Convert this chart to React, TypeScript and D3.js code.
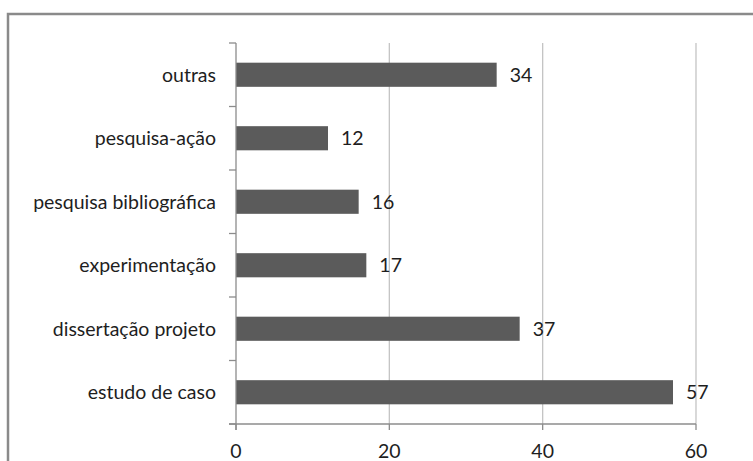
import React, { useEffect, useRef } from 'react';
import * as d3 from 'd3';

const categories = [
  'outras',
  'pesquisa-ação',
  'pesquisa bibliográfica',
  'experimentação',
  'dissertação projeto',
  'estudo de caso',
];
const values = [34, 12, 16, 17, 37, 57];
const xTicks = [0, 20, 40, 60];

const WIDTH = 753;
const HEIGHT = 461;

const App: React.FC = () => {
  const svgRef = useRef<SVGSVGElement>(null);

  useEffect(() => {
    if (!svgRef.current) return;
    const svg = d3.select(svgRef.current);
    svg.selectAll('*').remove();

    const font = "Lato, 'Open Sans', sans-serif";
    const plot = { left: 236, right: 696, top: 43, bottom: 424 };

    // chart frame (right and bottom edges fall outside the picture)
    svg.append('rect')
      .attr('x', 8)
      .attr('y', 14)
      .attr('width', 780)
      .attr('height', 500)
      .attr('fill', 'white')
      .attr('stroke', '#8a8a8a')
      .attr('stroke-width', 2.5);

    const x = d3.scaleLinear().domain([0, 60]).range([plot.left, plot.right]);
    const y = d3.scaleBand<string>()
      .domain(categories)
      .range([plot.top, plot.bottom])
      .paddingInner(0.62)
      .paddingOuter(0.31);
    const step = y.step();

    // vertical gridlines
    svg.append('g')
      .selectAll('line')
      .data(xTicks.filter(t => t > 0))
      .enter().append('line')
      .attr('x1', d => x(d))
      .attr('x2', d => x(d))
      .attr('y1', plot.top)
      .attr('y2', plot.bottom)
      .attr('stroke', '#c4c4c4')
      .attr('stroke-width', 1.3);

    // bars
    svg.append('g')
      .selectAll('rect')
      .data(categories)
      .enter().append('rect')
      .attr('x', x(0))
      .attr('y', d => y(d)!)
      .attr('width', (d, i) => x(values[i]) - x(0))
      .attr('height', y.bandwidth())
      .attr('fill', '#5b5b5b');

    // value labels
    svg.append('g')
      .selectAll('text')
      .data(categories)
      .enter().append('text')
      .attr('x', (d, i) => x(values[i]) + 13)
      .attr('y', d => y(d)! + y.bandwidth() / 2)
      .attr('dy', '0.35em')
      .style('font-family', font)
      .style('font-size', '19.5px')
      .attr('fill', '#1e1e1e')
      .text((d, i) => values[i]);

    // axes
    const axisColor = '#8c8c8c';
    const axes = svg.append('g').attr('stroke', axisColor).attr('stroke-width', 1.3);
    axes.append('line')
      .attr('x1', plot.left).attr('x2', plot.left)
      .attr('y1', plot.top).attr('y2', plot.bottom + 6);
    axes.append('line')
      .attr('x1', plot.left - 7).attr('x2', plot.right)
      .attr('y1', plot.bottom).attr('y2', plot.bottom);

    // category ticks at band boundaries
    const boundaries = d3.range(categories.length + 1).map(i => plot.top + i * step);
    axes.selectAll('.ytick')
      .data(boundaries)
      .enter().append('line')
      .attr('class', 'ytick')
      .attr('x1', plot.left - 7).attr('x2', plot.left)
      .attr('y1', d => d).attr('y2', d => d);

    // value ticks below x axis
    axes.selectAll('.xtick')
      .data(xTicks)
      .enter().append('line')
      .attr('class', 'xtick')
      .attr('x1', d => x(d)).attr('x2', d => x(d))
      .attr('y1', plot.bottom).attr('y2', plot.bottom + 6);

    // category labels
    svg.append('g')
      .selectAll('text')
      .data(categories)
      .enter().append('text')
      .attr('x', 216)
      .attr('y', d => y(d)! + y.bandwidth() / 2)
      .attr('dy', '0.35em')
      .attr('text-anchor', 'end')
      .style('font-family', font)
      .style('font-size', '19.5px')
      .attr('fill', '#1e1e1e')
      .text(d => d);

    // x tick labels
    svg.append('g')
      .selectAll('text')
      .data(xTicks)
      .enter().append('text')
      .attr('x', d => x(d))
      .attr('y', 458)
      .attr('text-anchor', 'middle')
      .style('font-family', font)
      .style('font-size', '19.5px')
      .attr('fill', '#1e1e1e')
      .text(d => d);
  }, []);

  return (
    <svg
      ref={svgRef}
      width={WIDTH}
      height={HEIGHT}
      style={{ position: 'fixed', left: 0, top: 0, display: 'block' }}
    />
  );
};

export default App;
